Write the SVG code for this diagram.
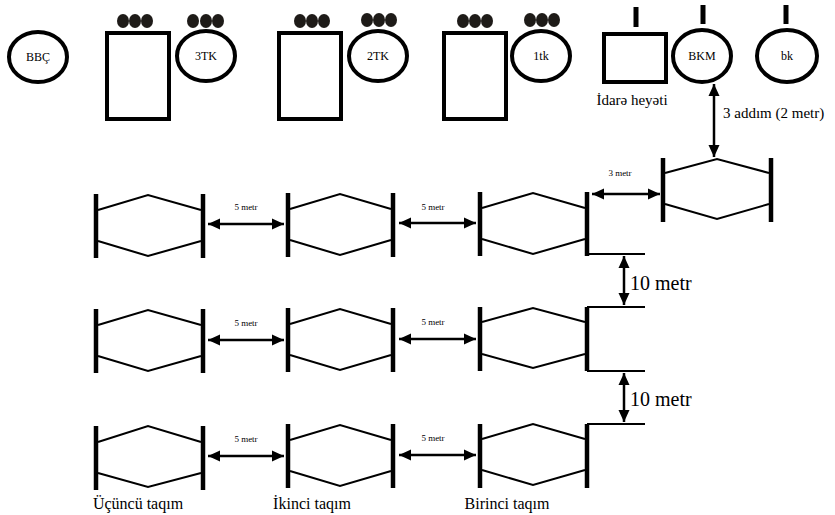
<svg xmlns="http://www.w3.org/2000/svg" width="835" height="515" viewBox="0 0 835 515" font-family="Liberation Serif, DejaVu Serif, serif">
<style>
text{font-family:"Liberation Serif","DejaVu Serif",serif;fill:#000}
.el{fill:#fff;stroke:#000;stroke-width:4}
.box{fill:#fff;stroke:#000;stroke-width:4}
.dot{fill:#1e1b18}
.tick{stroke:#000;stroke-width:5}
.bar{stroke:#000;stroke-width:4.5;fill:none}
.hx{stroke:#000;stroke-width:2;fill:none}
.ln{stroke:#000;stroke-width:2;fill:none}
.arr{stroke:#000;stroke-width:2.5;fill:none;marker-start:url(#ah);marker-end:url(#ah)}
.s{font-size:9px}
.m{font-size:12px}
</style>
<defs>
<marker id="ah" viewBox="0 0 12 12" refX="12" refY="6" markerWidth="12" markerHeight="12" markerUnits="userSpaceOnUse" orient="auto-start-reverse"><path d="M0,0.5 L12,6 L0,11.5 z" fill="#000"/></marker>
</defs>

<g id="bbc">
<ellipse class="el" cx="38" cy="57" rx="29" ry="25"/>
<text class="m" x="38" y="61" text-anchor="middle">BBÇ</text>
</g>

<g id="box3">
<rect class="box" x="107" y="33" width="62" height="86"/>
<ellipse class="dot" cx="123" cy="21" rx="6" ry="7"/><ellipse class="dot" cx="135" cy="21" rx="6" ry="7"/><ellipse class="dot" cx="147" cy="21" rx="6" ry="7"/>
</g>
<g id="tk3">
<ellipse class="el" cx="206" cy="56" rx="29" ry="25"/>
<ellipse class="dot" cx="193" cy="21" rx="6" ry="7"/><ellipse class="dot" cx="206" cy="21" rx="6" ry="7"/><ellipse class="dot" cx="218" cy="21" rx="6" ry="7"/>
<text class="m" x="206" y="60" text-anchor="middle">3TK</text>
</g>

<g id="box2">
<rect class="box" x="279" y="33" width="62" height="86"/>
<ellipse class="dot" cx="300" cy="21" rx="6" ry="7"/><ellipse class="dot" cx="312" cy="21" rx="6" ry="7"/><ellipse class="dot" cx="324" cy="21" rx="6" ry="7"/>
</g>
<g id="tk2">
<ellipse class="el" cx="378" cy="56" rx="29" ry="25"/>
<ellipse class="dot" cx="367" cy="20" rx="6" ry="7"/><ellipse class="dot" cx="379" cy="20" rx="6" ry="7"/><ellipse class="dot" cx="391" cy="20" rx="6" ry="7"/>
<text class="m" x="378" y="60" text-anchor="middle">2TK</text>
</g>

<g id="box1">
<rect class="box" x="444" y="33" width="62" height="86"/>
<ellipse class="dot" cx="463" cy="21" rx="6" ry="7"/><ellipse class="dot" cx="475" cy="21" rx="6" ry="7"/><ellipse class="dot" cx="487" cy="21" rx="6" ry="7"/>
</g>
<g id="tk1">
<ellipse class="el" cx="541" cy="56" rx="29" ry="25"/>
<ellipse class="dot" cx="530" cy="20" rx="6" ry="7"/><ellipse class="dot" cx="542" cy="20" rx="6" ry="7"/><ellipse class="dot" cx="554" cy="20" rx="6" ry="7"/>
<text class="m" x="541" y="60" text-anchor="middle">1tk</text>
</g>

<g id="idare">
<rect class="box" x="604" y="34" width="62" height="48"/>
<line class="tick" x1="636" y1="7" x2="636" y2="27"/>
<text x="632" y="105" font-size="15" text-anchor="middle">İdarə heyəti</text>
</g>
<g id="bkm">
<ellipse class="el" cx="702" cy="56" rx="29" ry="26"/>
<line class="tick" x1="703" y1="5" x2="703" y2="24"/>
<text class="m" x="702" y="60" text-anchor="middle">BKM</text>
</g>
<g id="bk">
<ellipse class="el" cx="787" cy="56" rx="30" ry="26"/>
<line class="tick" x1="786" y1="5" x2="786" y2="24"/>
<text class="m" x="787" y="60" text-anchor="middle">bk</text>
</g>

<g id="hex-bkm">
<line class="bar" x1="663" y1="158" x2="663" y2="222"/><line class="bar" x1="771" y1="158" x2="771" y2="222"/>
<path class="hx" d="M665,173 L717,159 L769,173 M665,204 L717,219 L769,204"/>
</g>

<g id="hex-r1-3">
<line class="bar" x1="96" y1="194" x2="96" y2="258"/><line class="bar" x1="203" y1="194" x2="203" y2="258"/>
<path class="hx" d="M98,210 L148,195 L201,210 M98,241 L148,256 L201,241"/>
</g>
<g id="hex-r1-2">
<line class="bar" x1="288" y1="193" x2="288" y2="257"/><line class="bar" x1="393" y1="193" x2="393" y2="257"/>
<path class="hx" d="M290,209 L340,194 L391,209 M290,240 L340,255 L391,240"/>
</g>
<g id="hex-r1-1">
<line class="bar" x1="480" y1="192" x2="480" y2="256"/><line class="bar" x1="587" y1="192" x2="587" y2="256"/>
<path class="hx" d="M482,208 L533,193 L585,208 M482,239 L533,254 L585,239"/>
</g>

<g id="hex-r2-3">
<line class="bar" x1="96" y1="309" x2="96" y2="373"/><line class="bar" x1="203" y1="309" x2="203" y2="373"/>
<path class="hx" d="M98,325 L148,310 L201,325 M98,356 L148,371 L201,356"/>
</g>
<g id="hex-r2-2">
<line class="bar" x1="288" y1="308" x2="288" y2="372"/><line class="bar" x1="393" y1="308" x2="393" y2="372"/>
<path class="hx" d="M290,324 L340,309 L391,324 M290,355 L340,370 L391,355"/>
</g>
<g id="hex-r2-1">
<line class="bar" x1="480" y1="307" x2="480" y2="371"/><line class="bar" x1="587" y1="307" x2="587" y2="371"/>
<path class="hx" d="M482,322 L533,308 L585,322 M482,354 L533,368 L585,354"/>
</g>

<g id="hex-r3-3">
<line class="bar" x1="96" y1="426" x2="96" y2="490"/><line class="bar" x1="203" y1="426" x2="203" y2="490"/>
<path class="hx" d="M98,442 L148,426 L201,442 M98,473 L148,487 L201,473"/>
<text x="138" y="509" font-size="16" text-anchor="middle">Üçüncü taqım</text>
</g>
<g id="hex-r3-2">
<line class="bar" x1="288" y1="424" x2="288" y2="488"/><line class="bar" x1="393" y1="424" x2="393" y2="488"/>
<path class="hx" d="M290,440 L340,425 L391,440 M290,471 L340,486 L391,471"/>
<text x="312" y="509" font-size="16" text-anchor="middle">İkinci taqım</text>
</g>
<g id="hex-r3-1">
<line class="bar" x1="480" y1="424" x2="480" y2="488"/><line class="bar" x1="587" y1="424" x2="587" y2="488"/>
<path class="hx" d="M482,439 L533,424 L585,439 M482,470 L533,485 L585,470"/>
<text x="507" y="509" font-size="16" text-anchor="middle">Birinci taqım</text>
</g>

<g id="connectors">
<line class="arr" x1="714" y1="84" x2="714" y2="157"/>
<text x="723" y="118" font-size="15">3 addım (2 metr)</text>

<line class="arr" x1="592" y1="194" x2="660" y2="194"/>
<text class="s" x="620" y="176" text-anchor="middle">3 metr</text>

<line class="arr" x1="208" y1="224" x2="284" y2="224"/>
<text class="s" x="246" y="210" text-anchor="middle">5 metr</text>
<line class="arr" x1="399" y1="223" x2="476" y2="223"/>
<text class="s" x="433" y="210" text-anchor="middle">5 metr</text>

<line class="arr" x1="208" y1="340" x2="284" y2="340"/>
<text class="s" x="246" y="326" text-anchor="middle">5 metr</text>
<line class="arr" x1="399" y1="339" x2="476" y2="339"/>
<text class="s" x="433" y="325" text-anchor="middle">5 metr</text>

<line class="arr" x1="208" y1="456" x2="284" y2="456"/>
<text class="s" x="246" y="442" text-anchor="middle">5 metr</text>
<line class="arr" x1="399" y1="455" x2="476" y2="455"/>
<text class="s" x="433" y="441" text-anchor="middle">5 metr</text>

<path class="ln" d="M587,254 L645,254"/>
<path class="ln" d="M587,307 L645,307 M587,371 L645,371"/>
<path class="ln" d="M587,424 L645,424"/>
<line class="arr" x1="624" y1="256" x2="624" y2="305"/>
<text x="630" y="290" font-size="20">10 metr</text>
<line class="arr" x1="624" y1="373" x2="624" y2="422"/>
<text x="630" y="406" font-size="20">10 metr</text>
</g>
</svg>
